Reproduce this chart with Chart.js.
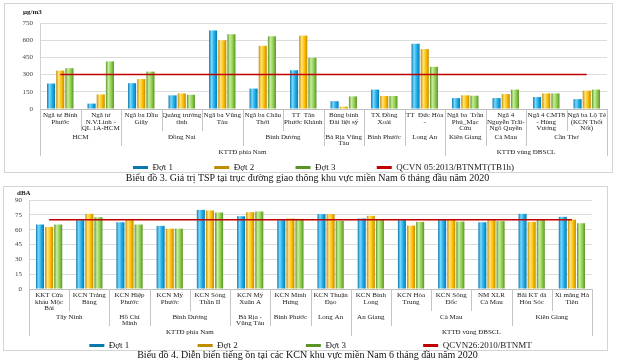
<!DOCTYPE html>
<html>
<head>
<meta charset="utf-8">
<script src="https://cdn.jsdelivr.net/npm/chart.js@4.4.1/dist/chart.umd.min.js"></script>
<style>
  body { margin: 0; background: #fff; width: 620px; height: 362px; position: relative; overflow: hidden;
         font-family: "Liberation Serif", "Times New Roman", serif; }
  .frame { position: absolute; border: 1px solid #d4d4d4; box-sizing: border-box; }
  canvas { position: absolute; }
  .cap { position: absolute; left: 0; width: 615px; text-align: center; font-size: 10px; color: #111; }
</style>
</head>
<body>
<div class="frame" style="left:4px;top:3px;width:609px;height:170px"></div>
<canvas id="tsp" width="606" height="178" style="left:5px;top:4px"></canvas>
<div class="cap" style="top:172px">Biểu đồ 3. Giá trị TSP tại trục đường giao thông khu vực miền Nam 6 tháng đầu năm 2020</div>

<div class="frame" style="left:3px;top:186px;width:605px;height:165px"></div>
<canvas id="noise" width="603" height="173" style="left:4px;top:187px"></canvas>
<div class="cap" style="top:349px">Biểu đồ 4. Diễn biến tiếng ồn tại các KCN khu vực miền Nam 6 tháng đầu năm 2020</div>

<script>
// --- Biểu đồ 3: TSP (µg/m3) ---
const tspStations = [
  ['Ngã tư Bình', 'Phước'], ['Ngã tư', 'N.V.Linh -', 'QL 1A-HCM'], ['Ngã ba Dầu', 'Giây'],
  ['Quảng trường', 'tỉnh'], ['Ngã ba Vũng', 'Tàu'], ['Ngã ba Châu', 'Thới'], ['TT  Tân', 'Phước Khánh'],
  ['Bùng binh', 'Đài liệt sỹ'], ['TX Đồng', 'Xoài'], ['TT  Đức Hòa', '-'], ['Ngã ba  Trần', 'Phú_Mạc', 'Cửu'],
  ['Ngã 4', 'Nguyễn Trãi-', 'Ngô Quyền'], ['Ngã 4 CMT8', '- Hùng', 'Vương'], ['Ngã ba Lộ Tẻ', '(KCN Thốt', 'Nốt)']
];
const tspProvinces = ['HCM', 'Đồng Nai', 'Bình Dương', 'Bà Rịa Vũng\nTàu', 'Bình Phước', 'Long An', 'Kiên Giang', 'Cà Mau', 'Cần Thơ'];
const tspProvinceSpans = [2, 3, 2, 1, 1, 1, 1, 1, 2];
const tspRegions = ['KTTĐ phía Nam', 'KTTĐ vùng ĐBSCL'];
const tspRegionSpans = [10, 4];
const tspRound1 = [222, 47, 225, 119, 685, 178, 338, 68, 169, 569, 95, 95, 104, 86];
const tspRound2 = [335, 127, 261, 136, 599, 551, 640, 20, 113, 522, 119, 130, 136, 160];
const tspRound3 = [356, 415, 326, 124, 652, 634, 447, 110, 113, 368, 116, 169, 136, 169];
const tspLimit = [300, 300, 300, 300, 300, 300, 300, 300, 300, 300, 300, 300, 300, 300];

// --- Biểu đồ 4: tiếng ồn (dBA) ---
const kcnNames = [
  ['KKT Cửa', 'khẩu Mộc', 'Bài'], ['KCN Trảng', 'Bàng'], ['KCN Hiệp', 'Phước'], ['KCN Mỹ', 'Phước'],
  ['KCN Sóng', 'Thần II'], ['KCN Mỹ', 'Xuân A'], ['KCN Minh', 'Hưng'], ['KCN Thuận', 'Đạo'],
  ['KCN Bình', 'Long'], ['KCN Hòa', 'Trung'], ['KCN Sông', 'Đốc'], ['NM XLR', 'Cà Mau'],
  ['Bãi KT đá', 'Hòn Sóc'], ['Xi măng Hà', 'Tiên']
];
const kcnProvinces = ['Tây Ninh', 'Hồ Chí\nMinh', 'Bình Dương', 'Bà Rịa -\nVũng Tàu', 'Bình Phước', 'Long An', 'An Giang', 'Cà Mau', 'Kiên Giang'];
const kcnProvinceSpans = [2, 1, 2, 1, 1, 1, 1, 3, 2];
const kcnRegions = ['KTTĐ phía Nam', 'KTTĐ vùng ĐBSCL'];
const kcnRegionSpans = [8, 6];
const noiseRound1 = [65.2, 69.6, 67.5, 63.8, 80.0, 73.6, 69.6, 75.7, 71.3, 69.6, 70.2, 67.5, 76.0, 73.0];
const noiseRound2 = [62.8, 76.0, 69.6, 61.0, 79.4, 77.7, 71.3, 75.7, 74.0, 64.1, 70.6, 69.6, 67.9, 70.2];
const noiseRound3 = [65.2, 72.6, 65.2, 61.0, 77.4, 78.4, 70.9, 68.9, 70.6, 67.9, 68.2, 68.6, 70.2, 66.5];
const noiseLimit = [70, 70, 70, 70, 70, 70, 70, 70, 70, 70, 70, 70, 70, 70];

const SERIF = '"Liberation Serif", "Times New Roman", serif';
const CAT_PCT = 0.68, BAR_PCT = 0.88;
const BLUE = ['#0b78ad', '#1eaee8', '#7ad9ff'];
const YELLOW = ['#c08c00', '#ffc000', '#ffe480'];
const GREEN = ['#5a9428', '#92d050', '#c8ee9c'];

// shaded bar, like the 3D cylinders of the original
function cylinder(cols) {
  return c => {
    const chart = c.chart, x = chart.scales.x;
    if (c.type !== 'data' || !x) return cols[1];
    const cw = x.getPixelForValue(1) - x.getPixelForValue(0);
    const group = cw * CAT_PCT, chunk = group / 3;
    const mid = x.getPixelForValue(c.dataIndex) - group / 2 + chunk * (c.datasetIndex + 0.5);
    const half = chunk * BAR_PCT / 2;
    const g = chart.ctx.createLinearGradient(mid - half, 0, mid + half, 0);
    g.addColorStop(0, cols[0]);
    g.addColorStop(0.3, cols[2]);
    g.addColorStop(0.65, cols[1]);
    g.addColorStop(1, cols[0]);
    return g;
  };
}

// province / region rows under the axis, plus the unit label
const groupAxis = {
  id: 'groupAxis',
  afterDraw(chart, args, o) {
    const {ctx, chartArea: a} = chart;
    const n = chart.data.labels.length;
    const cw = (a.right - a.left) / n;
    const edge = i => a.left + cw * i;
    const level = new Array(n + 1).fill(1);
    let k = 0;
    o.provinceSpans.forEach(s => { k += s; level[k] = 2; });
    k = 0;
    o.regionSpans.forEach(s => { k += s; level[k] = 3; });
    level[0] = 3;
    const drop = [0, 22, 37, 47];
    ctx.save();
    ctx.strokeStyle = '#c4c4c4';
    ctx.lineWidth = 1;
    level.forEach((lv, i) => {
      const px = Math.round(edge(i)) + 0.5;
      ctx.beginPath();
      ctx.moveTo(px, a.bottom);
      ctx.lineTo(px, a.bottom + drop[lv]);
      ctx.stroke();
    });
    ctx.fillStyle = '#1a1a1a';
    ctx.font = '7px ' + SERIF;
    ctx.textAlign = 'center';
    ctx.textBaseline = 'middle';
    const row = (names, spans, y) => {
      let start = 0;
      names.forEach((name, j) => {
        const cx = edge(start + spans[j] / 2);
        name.split('\n').forEach((line, m) => ctx.fillText(line, cx, y + m * 6.5));
        start += spans[j];
      });
    };
    row(o.provinces, o.provinceSpans, a.bottom + 28);
    row(o.regions, o.regionSpans, a.bottom + 43);
    ctx.font = 'bold 7px ' + SERIF;
    ctx.textAlign = 'left';
    ctx.fillText(o.unit, a.left + o.unitDx, a.top + o.unitDy);
    ctx.restore();
  }
};

function makeChart(id, cfg) {
  const bar = (label, data, cols) => ({
    label, data, backgroundColor: cylinder(cols), borderWidth: 0,
    categoryPercentage: CAT_PCT, barPercentage: BAR_PCT
  });
  return new Chart(document.getElementById(id), {
    type: 'bar',
    data: {
      labels: cfg.labels,
      datasets: [
        bar('Đợt 1', cfg.rounds[0], BLUE),
        bar('Đợt 2', cfg.rounds[1], YELLOW),
        bar('Đợt 3', cfg.rounds[2], GREEN),
        {type: 'line', label: cfg.limitLabel, data: cfg.limit, order: -1,
         borderColor: '#c00000', backgroundColor: '#c00000', borderWidth: 1.5, pointRadius: 0}
      ]
    },
    options: {
      responsive: false,
      animation: false,
      layout: {padding: {left: 0, right: cfg.padRight, top: cfg.padTop, bottom: 0}},
      scales: {
        x: {
          grid: {display: false, drawTicks: false},
          border: {color: '#bdbdbd'},
          ticks: {autoSkip: false, maxRotation: 0, padding: 3, color: '#1a1a1a',
                  font: {family: SERIF, size: 7, lineHeight: 0.92}},
          afterFit: s => { s.height = cfg.axisHeight; }
        },
        y: {
          min: 0, max: cfg.yMax,
          grid: {color: '#dcdcdc', drawTicks: false},
          border: {color: '#d0d0d0'},
          ticks: {stepSize: cfg.yStep, padding: 7, color: '#404040', font: {family: SERIF, size: 7}},
          afterFit: s => { s.width = cfg.yWidth; }
        }
      },
      plugins: {
        tooltip: {enabled: false},
        legend: {
          position: 'bottom',
          fullSize: false,
          labels: {
            boxWidth: 15, boxHeight: 3, padding: 3, color: '#1a1a1a',
            font: {family: SERIF, size: 9},
            sort: (a, b) => a.datasetIndex - b.datasetIndex,
            generateLabels: chart => Chart.defaults.plugins.legend.labels.generateLabels(chart).map(item => {
              const pad = cfg.legendPad[item.datasetIndex] || 0;
              item.text = item.text + ' '.repeat(pad);
              item.lineWidth = 0;
              return item;
            })
          }
        },
        groupAxis: cfg.groups
      }
    },
    plugins: [groupAxis]
  });
}

makeChart('tsp', {
  labels: tspStations,
  rounds: [tspRound1, tspRound2, tspRound3],
  limit: tspLimit,
  limitLabel: 'QCVN 05:2013/BTNMT(TB1h)',
  yMax: 750, yStep: 150,
  padTop: 19, padRight: 4, yWidth: 35, axisHeight: 51,
  legendPad: [17, 17, 17],
  groups: {provinces: tspProvinces, provinceSpans: tspProvinceSpans,
           regions: tspRegions, regionSpans: tspRegionSpans,
           unit: 'µg/m3', unitDx: -17, unitDy: -11}
});

makeChart('noise', {
  labels: kcnNames,
  rounds: [noiseRound1, noiseRound2, noiseRound3],
  limit: noiseLimit,
  limitLabel: 'QCVN26:2010/BTNMT',
  yMax: 90, yStep: 15,
  padTop: 13, padRight: 15, yWidth: 25, axisHeight: 49,
  legendPad: [29, 29, 33],
  groups: {provinces: kcnProvinces, provinceSpans: kcnProvinceSpans,
           regions: kcnRegions, regionSpans: kcnRegionSpans,
           unit: 'dBA', unitDx: -12, unitDy: -7}
});
</script>
</body>
</html>
